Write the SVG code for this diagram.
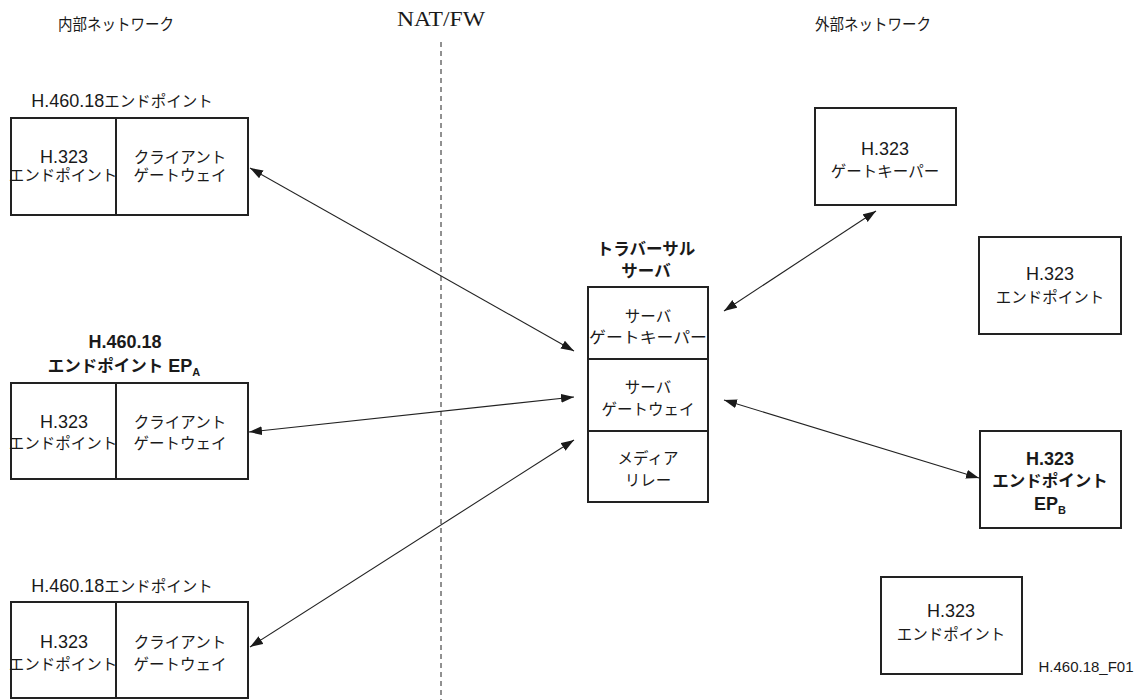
<svg xmlns="http://www.w3.org/2000/svg" width="1147" height="700" viewBox="0 0 1147 700">
<style>
text{font-family:"Liberation Sans","Noto Sans CJK JP",sans-serif;font-size:18px;fill:#1a1a1a;text-anchor:middle}
.j,tspan.j{font-size:15.5px}
.b{font-weight:bold}
.bj{font-weight:bold;font-size:16.5px}
.hd{font-size:16px}
.serif{font-family:"Liberation Serif","Noto Sans CJK JP",serif;font-size:22px}
.box{fill:#fff;stroke:#222;stroke-width:2}
.div{stroke:#222;stroke-width:2}
.conn{stroke:#222;stroke-width:1.1;fill:none;marker-start:url(#ah);marker-end:url(#ah)}
.sub{font-size:11px}
.fid{font-size:15px}
</style>
<defs>
<marker id="ah" markerUnits="userSpaceOnUse" markerWidth="14" markerHeight="10" refX="13" refY="5" orient="auto-start-reverse">
<path d="M0,0.5 L13,5 L0,9.5 z" fill="#1a1a1a"/>
</marker>
</defs>
<rect width="1147" height="700" fill="#fff"/>

<g id="headers">
<text class="hd" x="116" y="30" textLength="116" lengthAdjust="spacingAndGlyphs">内部ネットワーク</text>
<text class="serif" x="441" y="26" textLength="88" lengthAdjust="spacingAndGlyphs">NAT/FW</text>
<text class="hd" x="873" y="30" textLength="116" lengthAdjust="spacingAndGlyphs">外部ネットワーク</text>
</g>

<g id="natfw-line">
<line x1="441" y1="42" x2="441" y2="700" stroke="#222" stroke-width="1" stroke-dasharray="5,4"/>
</g>

<g id="ep-top">
<text x="122" y="107">H.460.18<tspan class="j">エンドポイント</tspan></text>
<rect class="box" x="11" y="118" width="237" height="97"/>
<line class="div" x1="116" y1="118" x2="116" y2="215"/>
<text x="64" y="163">H.323</text>
<text class="j" x="63" y="181">エンドポイント</text>
<text class="j" x="180" y="163">クライアント</text>
<text class="j" x="180" y="181">ゲートウェイ</text>
</g>

<g id="ep-a">
<text class="b" x="125" y="348">H.460.18</text>
<text class="b" x="124" y="372"><tspan class="bj">エンドポイント</tspan> EP<tspan class="sub" dy="4">A</tspan></text>
<rect class="box" x="11" y="383" width="237" height="96"/>
<line class="div" x1="116" y1="383" x2="116" y2="479"/>
<text x="64" y="428">H.323</text>
<text class="j" x="63" y="449">エンドポイント</text>
<text class="j" x="180" y="428">クライアント</text>
<text class="j" x="180" y="449">ゲートウェイ</text>
</g>

<g id="ep-bottom">
<text x="122" y="592">H.460.18<tspan class="j">エンドポイント</tspan></text>
<rect class="box" x="11" y="602" width="237" height="96"/>
<line class="div" x1="116" y1="602" x2="116" y2="698"/>
<text x="64" y="648">H.323</text>
<text class="j" x="63" y="670">エンドポイント</text>
<text class="j" x="180" y="648">クライアント</text>
<text class="j" x="180" y="670">ゲートウェイ</text>
</g>

<g id="traversal-server">
<text class="bj" x="646" y="255">トラバーサル</text>
<text class="bj" x="646" y="277">サーバ</text>
<rect class="box" x="588" y="287" width="120" height="215"/>
<line class="div" x1="588" y1="359" x2="708" y2="359"/>
<line class="div" x1="588" y1="431" x2="708" y2="431"/>
<text class="j" x="648" y="322">サーバ</text>
<text class="j" x="648" y="343" textLength="118" lengthAdjust="spacingAndGlyphs">ゲートキーパー</text>
<text class="j" x="648" y="393">サーバ</text>
<text class="j" x="648" y="415">ゲートウェイ</text>
<text class="j" x="648" y="464">メディア</text>
<text class="j" x="648" y="486">リレー</text>
</g>

<g id="gatekeeper">
<rect class="box" x="815" y="108" width="141" height="97"/>
<text x="885" y="155">H.323</text>
<text class="j" x="885" y="177">ゲートキーパー</text>
</g>

<g id="ep-right-1">
<rect class="box" x="979" y="237" width="142" height="97"/>
<text x="1050" y="280">H.323</text>
<text class="j" x="1050" y="303">エンドポイント</text>
</g>

<g id="ep-b">
<rect class="box" x="980" y="431" width="141" height="97"/>
<text class="b" x="1050" y="465">H.323</text>
<text class="bj" x="1050" y="487">エンドポイント</text>
<text class="b" x="1050" y="510">EP<tspan class="sub" dy="4">B</tspan></text>
</g>

<g id="ep-right-2">
<rect class="box" x="881" y="577" width="141" height="97"/>
<text x="951" y="617">H.323</text>
<text class="j" x="951" y="640">エンドポイント</text>
</g>

<g id="figure-id">
<text class="fid" x="1086" y="672">H.460.18_F01</text>
</g>

<g id="connectors">
<line class="conn" x1="250" y1="168" x2="574" y2="351"/>
<line class="conn" x1="249" y1="432" x2="574" y2="397"/>
<line class="conn" x1="250" y1="647" x2="574" y2="440"/>
<line class="conn" x1="876" y1="211" x2="724" y2="311"/>
<line class="conn" x1="724" y1="400" x2="979" y2="478"/>
</g>
</svg>
